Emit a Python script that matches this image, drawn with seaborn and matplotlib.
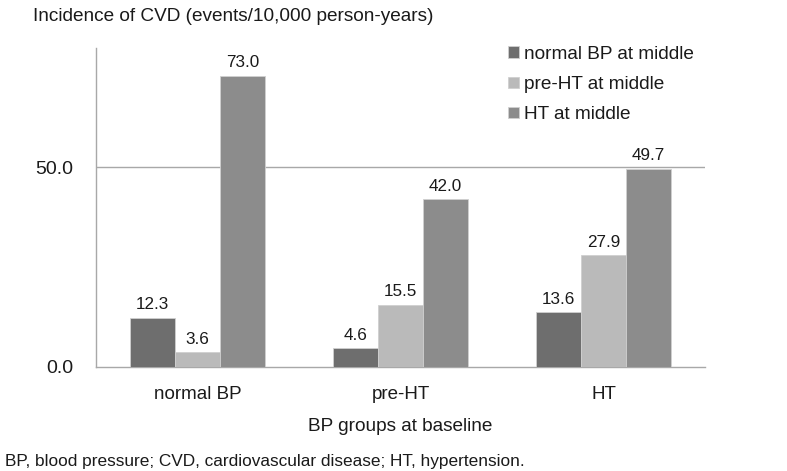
import pandas as pd
import matplotlib.pyplot as plt
import seaborn as sns

# data
baseline_groups = ["normal BP", "pre-HT", "HT"]
middle_groups = ["normal BP at middle", "pre-HT at middle", "HT at middle"]
normal_mid = [12.3, 4.6, 13.6]
prehtn_mid = [3.6, 15.5, 27.9]
htn_mid = [73.0, 42.0, 49.7]

df = pd.DataFrame({
    "baseline": baseline_groups * 3,
    "middle": [m for m in middle_groups for _ in baseline_groups],
    "rate": normal_mid + prehtn_mid + htn_mid,
})

sns.set_style("white")
plt.rcParams["font.family"] = ["Liberation Sans", "DejaVu Sans"]

fig = plt.figure(figsize=(7.87, 4.71), dpi=100)
ax = fig.add_axes([0.122, 0.2214, 0.774, 0.6773])

palette = ["#6e6e6e", "#bababa", "#8c8c8c"]
sns.barplot(data=df, x="baseline", y="rate", hue="middle", order=baseline_groups,
            hue_order=middle_groups, palette=palette, width=0.665, saturation=1,
            edgecolor="#d0d0d0", linewidth=0.6, ax=ax, zorder=3)

for cont in ax.containers:
    ax.bar_label(cont, fmt="%.1f", padding=4, fontsize=12.3, color="#1a1a1a")

ax.set_ylim(0, 80)
ax.set_xlim(-0.5, 2.5)
ax.set_yticks([0, 50])
ax.set_yticklabels(["0.0", "50.0"])
ax.tick_params(axis="y", length=0, pad=16.5, labelsize=14, labelcolor="#1a1a1a")
ax.tick_params(axis="x", length=0, pad=14, labelsize=13.5, labelcolor="#1a1a1a")
ax.set_xticks([-0.5, 0.5, 1.5, 2.5], minor=True)
ax.tick_params(axis="x", which="minor", direction="in", length=4, color="#a0a0a0")

ax.axhline(50, color="#a8a8a8", lw=1, zorder=1)
for s in ["top", "right"]:
    ax.spines[s].set_visible(False)
for s in ["left", "bottom"]:
    ax.spines[s].set_color("#a8a8a8")
    ax.spines[s].set_linewidth(1)

ax.set_ylabel("")
ax.set_xlabel("BP groups at baseline", fontsize=13.7, color="#1a1a1a", labelpad=11)

fig.text(0.042, 0.965, "Incidence of CVD (events/10,000 person-years)",
         fontsize=13.7, color="#1a1a1a", va="center", ha="left")
fig.text(0.006, 0.021, "BP, blood pressure; CVD, cardiovascular disease; HT, hypertension.",
         fontsize=12.4, color="#1a1a1a", va="center", ha="left")

leg = ax.legend(loc="upper left", bbox_to_anchor=(0.6485, 1.06), frameon=False,
                fontsize=13.7, handlelength=0.55, handleheight=0.55,
                handletextpad=0.3, labelspacing=0.7)
for t in leg.get_texts():
    t.set_color("#1a1a1a")

fig.savefig("out.png", dpi=100)
